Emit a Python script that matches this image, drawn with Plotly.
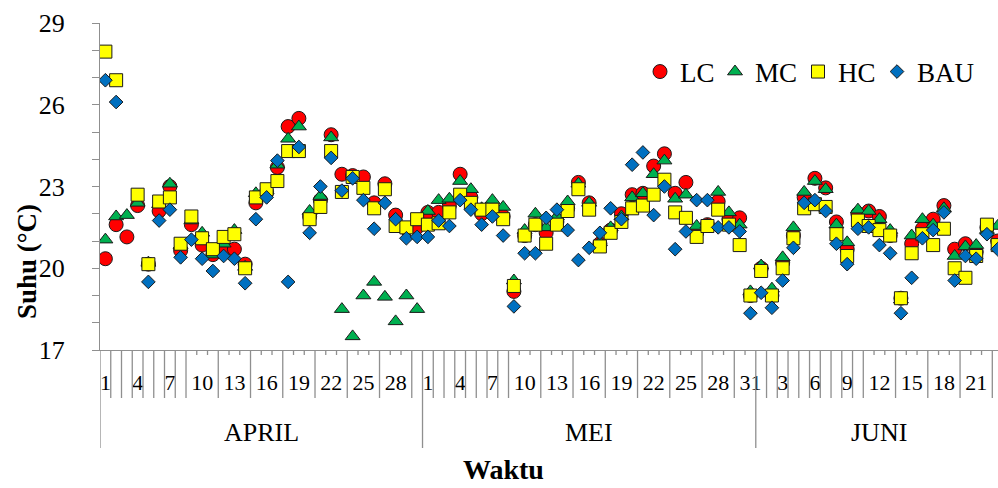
import plotly.graph_objects as go

# ---------------- data ----------------
months = ["APRIL", "MEI", "JUNI"]
month_days = [30, 31, 23]
days = list(range(1, 31)) + list(range(1, 32)) + list(range(1, 24))

LC = [20.35, 21.6, 21.15, 22.3, 20.15, 22.1, 23.0, 20.65, 21.6, 20.85,
      20.5, 20.65, 20.7, 20.15, 22.4, 22.8, 23.7, 25.2, 25.5, 21.9,
      22.5, 24.9, 23.45, 23.4, 23.35, 22.4, 23.1, 21.95, 21.45, 21.5,
      22.05, 22.05, 22.3, 23.45, 22.6, 22.0, 22.2, 21.9, 19.15, 21.2,
      21.6, 21.3, 21.7, 22.2, 23.15, 22.4, 20.9, 21.4, 22.0, 22.7,
      22.75, 23.75, 24.2, 22.75, 23.15, 21.3, 21.6, 22.45, 21.8, 21.85,
      19.0, 20.0, 19.0, 20.2, 21.2, 22.6, 23.3, 22.95, 21.7, 20.7,
      22.0, 22.1, 21.9, 21.2, 18.9, 20.9, 21.45, 21.8, 22.3, 20.7,
      20.9, 20.6, 21.5, 21.0]
MC = [21.05, 21.9, 21.95, 22.4, 20.2, 22.35, 23.1, 20.85, 21.75, 21.3,
      20.5, 20.9, 21.4, 20.05, 22.75, 22.85, 23.8, 24.75, 25.2, 22.1,
      22.65, 24.8, 18.5, 17.5, 19.0, 19.5, 18.95, 18.05, 19.0, 18.5,
      22.1, 22.5, 22.55, 23.2, 22.9, 22.2, 22.5, 22.25, 19.55, 21.4,
      22.0, 21.5, 21.9, 22.45, 23.1, 22.4, 20.95, 21.5, 21.9, 22.6,
      22.75, 23.45, 23.95, 22.55, 22.7, 21.55, 21.6, 22.8, 22.05, 21.6,
      19.15, 20.1, 19.25, 20.4, 21.5, 22.8, 23.2, 22.9, 21.6, 20.95,
      22.15, 22.1, 21.8, 21.4, 18.85, 21.2, 21.8, 21.6, 22.2, 20.45,
      20.8, 20.85, 21.4, 21.55]
HC = [27.95, 26.9, None, 22.7, 20.15, 22.45, 22.6, 20.9, 21.9, 21.1,
      20.7, 21.15, 21.25, 20.0, 22.6, 22.9, 23.2, 24.3, 24.3, 21.8,
      22.25, 24.3, 22.8, 23.35, 22.95, 22.2, 22.9, 21.55, 21.5, 21.8,
      21.6, 21.65, 22.05, 22.7, 22.4, 22.15, 22.15, 21.8, 19.35, 21.2,
      21.6, 20.9, 21.6, 22.1, 22.9, 22.15, 20.8, 21.3, 21.7, 22.2,
      22.3, 22.7, 23.25, 22.05, 21.85, 21.15, 21.55, 22.15, 21.6, 20.85,
      19.0, 19.9, 19.0, 20.0, 21.1, 22.2, 22.35, 22.25, 21.25, 20.45,
      21.75, 21.55, 21.4, 21.2, 18.9, 20.55, 21.25, 20.85, 21.45, 20.0,
      19.65, 20.45, 21.6, 20.85]
BAU = [26.9, 26.1, None, None, 19.5, 21.75, 22.15, 20.4, 21.05, 20.35,
       19.9, 20.45, 20.35, 19.45, 21.8, 22.6, 23.95, 19.5, 24.45, 21.3,
       23.0, 24.05, 22.85, 23.3, 22.5, 21.45, 22.4, 21.8, 21.1, 21.15,
       21.15, 21.75, 21.55, 22.5, 22.15, 21.6, 21.9, 21.2, 18.6, 20.55,
       20.55, 21.85, 22.15, 21.4, 20.3, 20.75, 21.3, 22.2, 21.8, 23.8,
       24.25, 21.95, 23.0, 20.7, 21.35, 22.5, 22.5, 21.5, 21.5, 21.35,
       18.35, 19.1, 18.55, 19.55, 20.75, 22.4, 22.5, 22.1, 20.9, 20.15,
       21.45, 21.5, 20.85, 20.55, 18.35, 19.65, 21.1, 21.4, 22.05, 19.55,
       20.45, 20.35, 21.25, 20.7]

y_tick_values = list(range(17, 30))
y_tick_labels = [str(v) if (v - 17) % 3 == 0 else "" for v in y_tick_values]

# ---------------- figure ----------------
SERIF = "Liberation Serif, Times New Roman, serif"
idx = list(range(len(days)))
W, H = 998, 488
ML, MT, MB = 100, 23, 138
plot_h = H - MT - MB
axis_y = MT + plot_h  # pixel row of x axis


def pyp(py):
    """pixel row -> paper y"""
    return (axis_y - py) / plot_h


series = [
    ("LC", LC, "circle", "#FF0000", 14, 30),
    ("MC", MC, "triangle-up", "#00B050", 13, 38),
    ("HC", HC, "square", "#FFFF00", 13, 34),
    ("BAU", BAU, "diamond", "#0070C0", 10.5, 60),
]

fig = go.Figure()
for name, vals, sym, col, sz, lw in series:
    fig.add_trace(go.Scatter(
        x=idx, y=vals, mode="markers", name=name, legendwidth=lw,
        marker=dict(symbol=sym, color=col, size=sz,
                    line=dict(color="#1a1a1a", width=1)),
    ))

gray = "#8f8f8f"
shapes = []
label_idx = [i for i in idx if i % 3 == 0]
hidden = set()
for c in label_idx:
    if days[c] >= 10:
        hidden.add(c - 0.5)
        hidden.add(c + 0.5)

month_bounds = [-0.5]
acc = -0.5
for n in month_days:
    acc += n
    month_bounds.append(acc)

for k in range(-1, len(days)):
    b = k + 0.5
    if b in month_bounds:
        y1 = 448
    elif b in hidden:
        y1 = axis_y + 5
    else:
        y1 = 398
    shapes.append(dict(type="line", xref="x", yref="paper", x0=b, x1=b,
                       y0=0, y1=pyp(y1), line=dict(color=gray, width=1.3)))

annotations = []
start = -0.5
for m, n in zip(months, month_days):
    annotations.append(dict(x=start + n / 2, y=pyp(432), xref="x", yref="paper",
                            xanchor="center", yanchor="middle",
                            text=m, showarrow=False,
                            font=dict(family=SERIF, size=26, color="black")))
    start += n

annotations.append(dict(x=(503 - ML) / (W - ML), y=pyp(469), xref="paper", yref="paper",
                        xanchor="center", yanchor="middle",
                        text="<b>Waktu</b>", showarrow=False,
                        font=dict(family=SERIF, size=28, color="black")))
annotations.append(dict(x=(27 - ML) / (W - ML), y=pyp(262), xref="paper", yref="paper",
                        xanchor="center", yanchor="middle",
                        text="<b>Suhu (°C)</b>", showarrow=False, textangle=-90,
                        font=dict(family=SERIF, size=27, color="black")))

fig.update_layout(
    width=W, height=H,
    margin=dict(l=ML, r=0, t=MT, b=MB),
    paper_bgcolor="white", plot_bgcolor="white",
    font=dict(family=SERIF, color="black"),
    showlegend=True,
    legend=dict(orientation="h", x=(640 - ML) / (W - ML), y=pyp(72),
                xanchor="left", yanchor="middle",
                font=dict(family=SERIF, size=27, color="black"),
                bgcolor="rgba(0,0,0,0)", itemwidth=30, tracegroupgap=0),
    xaxis=dict(range=[-0.5, 83.03], tickmode="array", tickvals=label_idx,
               ticktext=[str(days[i]) for i in label_idx],
               ticks="", ticklabelstandoff=12,
               tickfont=dict(family=SERIF, size=22, color="black"),
               showline=True, linecolor=gray, linewidth=1.3,
               showgrid=False, zeroline=False),
    yaxis=dict(range=[17, 29], tickmode="array", tickvals=y_tick_values,
               ticktext=y_tick_labels, ticks="outside", ticklen=7,
               tickcolor=gray, tickwidth=1.3, ticklabelstandoff=22,
               tickfont=dict(family=SERIF, size=26, color="black"),
               showline=True, linecolor=gray, linewidth=1.3,
               showgrid=False, zeroline=False),
    shapes=shapes,
    annotations=annotations,
)

fig.write_html("out.html")
